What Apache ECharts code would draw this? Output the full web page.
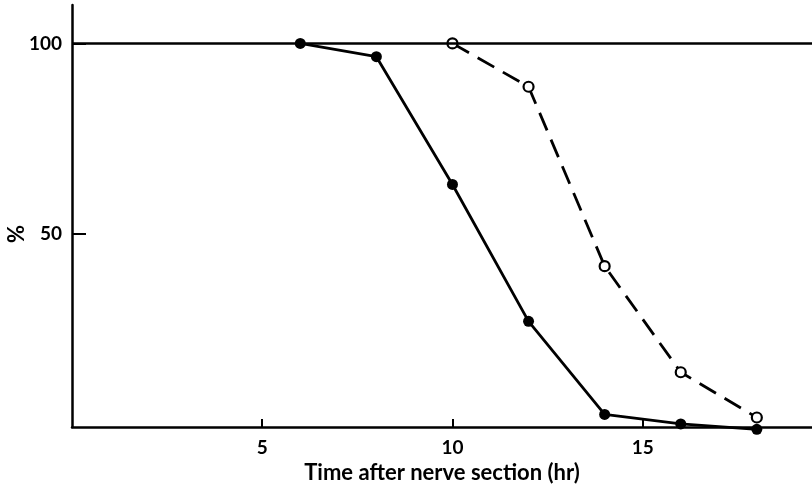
<!DOCTYPE html>
<html><head><meta charset="utf-8">
<script src="https://cdn.jsdelivr.net/npm/echarts@6/dist/echarts.min.js"></script>
<style>html,body{margin:0;padding:0;background:#fff}#c{width:812px;height:491px}</style>
</head><body><div id="c"></div>
<script>
const hoursSolid = [6, 8, 10, 12, 14, 16, 18];
const pctSolid = [100, 96.5, 62.9, 26.9, 2.4, -0.1, -1.5];
const hoursDashed = [10, 12, 14, 16, 18];
const pctDashed = [100, 88.6, 41.4, 13.5, 1.6];
const xTicks = [5, 10, 15];
const yTicks = [50, 100];
const refLevel = 100;
const yTitle = '%';

const F = 'Lato, "DejaVu Sans", sans-serif';
const chart = echarts.init(document.getElementById('c'), null, {renderer: 'canvas'});
chart.setOption({
  animation: false,
  grid: {left: 72, right: 0, top: 5, bottom: 64, containLabel: false, outerBoundsMode: 'none'},
  graphic: [{
    type: 'text', x: 17, y: 234, rotation: Math.PI / 2,
    style: {text: yTitle, fill: '#000', font: 'bold 22px ' + F, align: 'center', verticalAlign: 'middle'}
  }],
  xAxis: {
    type: 'value', min: 0, max: 19.45,
    name: 'Time after nerve section (hr)', nameLocation: 'middle', nameGap: 33,
    nameTextStyle: {color: '#000', fontFamily: F, fontWeight: 'bold', fontSize: 22},
    axisLine: {onZero: false, lineStyle: {color: '#000', width: 2.5}},
    axisTick: {inside: true, length: 8, customValues: xTicks, lineStyle: {color: '#000', width: 2}},
    axisLabel: {customValues: xTicks, margin: 11, color: '#000', fontFamily: F, fontWeight: 'bold', fontSize: 19},
    splitLine: {show: false}
  },
  yAxis: {
    type: 'value', min: -0.9, max: 110.1,
    axisLine: {show: true, onZero: false, lineStyle: {color: '#000', width: 2.5}},
    axisTick: {inside: true, length: 14, customValues: yTicks, lineStyle: {color: '#000', width: 2}},
    axisLabel: {customValues: yTicks, margin: 10, color: '#000', fontFamily: F, fontWeight: 'bold', fontSize: 19},
    splitLine: {show: false}
  },
  series: [
    {
      type: 'line',
      data: hoursSolid.map((h, i) => [h, pctSolid[i]]),
      symbol: 'circle', symbolSize: 11, clip: false,
      lineStyle: {color: '#000', width: 2.8},
      itemStyle: {color: '#000', borderColor: '#000', borderWidth: 0},
      z: 3,
      markLine: {
        silent: true, symbol: 'none', label: {show: false},
        lineStyle: {color: '#000', width: 2.5, type: 'solid'},
        data: [{yAxis: refLevel}]
      }
    },
    {
      type: 'line',
      data: hoursDashed.map((h, i) => [h, pctDashed[i]]),
      symbol: 'circle', symbolSize: 10, clip: false,
      lineStyle: {color: '#000', width: 2.8, type: [19, 10]},
      itemStyle: {color: '#fff', borderColor: '#000', borderWidth: 2.2},
      z: 4
    }
  ]
});
</script></body></html>
